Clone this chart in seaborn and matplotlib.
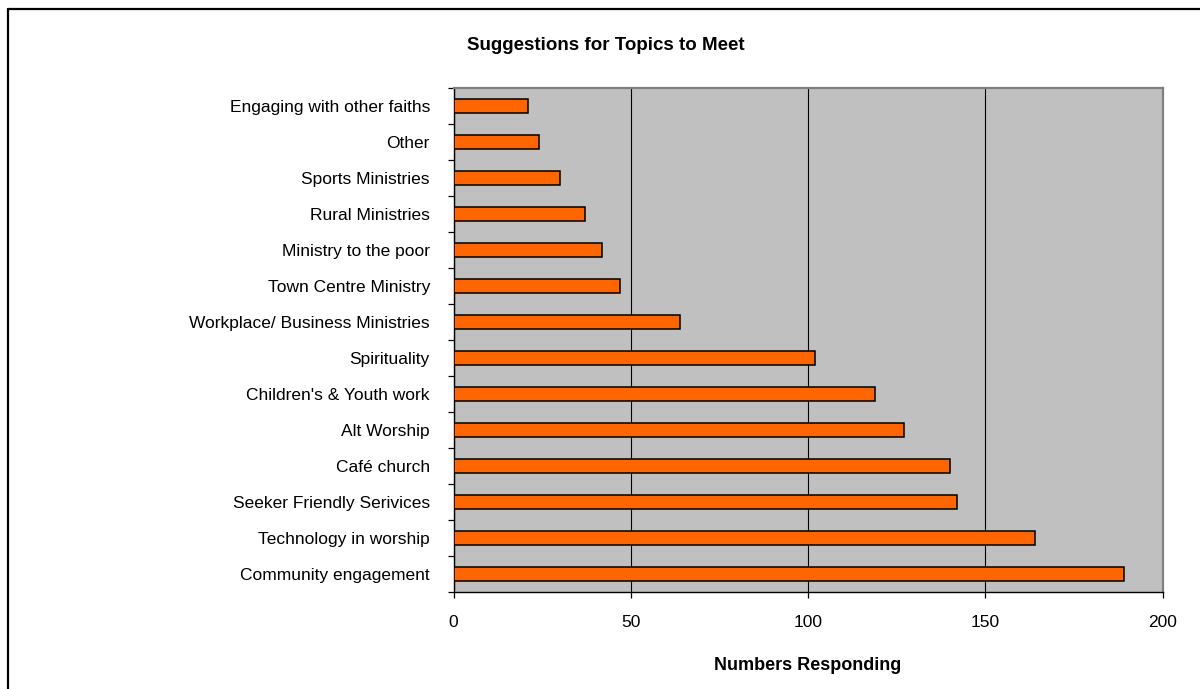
import matplotlib
matplotlib.use("Agg")
import matplotlib.pyplot as plt
from matplotlib.lines import Line2D
import numpy as np
import pandas as pd
import seaborn as sns

# Survey topics, listed top to bottom as drawn
topics = [
    "Engaging with other faiths",
    "Other",
    "Sports Ministries",
    "Rural Ministries",
    "Ministry to the poor",
    "Town Centre Ministry",
    "Workplace/ Business Ministries",
    "Spirituality",
    "Children's & Youth work",
    "Alt Worship",
    "Café church",
    "Seeker Friendly Serivices",
    "Technology in worship",
    "Community engagement",
]
responses = [21, 24, 30, 37, 42, 47, 64, 102, 119, 127, 140, 142, 164, 189]
x_ticks = [0, 50, 100, 150, 200]

title = "Suggestions for Topics to Meet"
x_label = "Numbers Responding"

sns.set_theme(style="white")
plt.rcParams["font.family"] = ["Liberation Sans", "DejaVu Sans"]

fig = plt.figure(figsize=(12, 6.89), dpi=100, facecolor="white")
W, H = 1200, 689
left, right, top, bottom = 453.5, 1162.5, 87.7, 591.7
ax = fig.add_axes([left / W, 1 - bottom / H, (right - left) / W, (bottom - top) / H])

df = pd.DataFrame({"topic": topics, "responses": responses})
sns.barplot(
    data=df, x="responses", y="topic", order=topics,
    color="#FF6600", saturation=1, width=0.4,
    edgecolor="black", linewidth=1.1, ax=ax, zorder=3,
)

ax.set_facecolor("#C0C0C0")
ax.set_xlim(x_ticks[0], x_ticks[-1])
ax.set_ylim(len(topics) - 0.5, -0.5)
ax.set_axisbelow(True)
ax.xaxis.grid(True, color="black", linewidth=0.8)
ax.yaxis.grid(False)

# Category ticks sit on the boundaries between bars; labels sit at bar centres
ax.set_yticks(np.arange(-0.5, len(topics), 1.0))
ax.set_yticklabels([])
ax.set_yticks(np.arange(len(topics)), labels=topics, minor=True)
ax.tick_params(axis="y", which="major", left=True, length=4.5, width=0.9,
               color="black", direction="out")
ax.tick_params(axis="y", which="minor", left=True, length=0, pad=17,
               labelsize=12.5, labelcolor="black")

ax.set_xticks(x_ticks)
ax.set_xticklabels([str(t) for t in x_ticks])
ax.tick_params(axis="x", bottom=True, length=4.5, width=0.9, color="black",
               direction="out", pad=12, labelsize=12.5, labelcolor="black")

for side in ("left", "bottom"):
    ax.spines[side].set_color("black")
    ax.spines[side].set_linewidth(1.0)
for side in ("top", "right"):
    ax.spines[side].set_color("#808080")
    ax.spines[side].set_linewidth(1.6)

ax.set_xlabel(x_label, fontsize=13, fontweight="bold", color="black")
ax.set_ylabel("")
ax.xaxis.label.set_va("center")
ax.xaxis.set_label_coords(0.5, (bottom - 665) / (bottom - top))

fig.text(0.505, 1 - 45 / H, title, ha="center", va="center",
         fontsize=13.5, fontweight="bold", color="black")

# Chart-area frame along the left and top edges
fig.add_artist(Line2D([7.5 / W, 7.5 / W], [-0.01, 1 - 8.5 / H],
                      color="black", linewidth=1.6, transform=fig.transFigure))
fig.add_artist(Line2D([7.5 / W, 1.01], [1 - 8.5 / H, 1 - 8.5 / H],
                      color="black", linewidth=1.6, transform=fig.transFigure))

fig.savefig("out.png", dpi=100, facecolor="white")
